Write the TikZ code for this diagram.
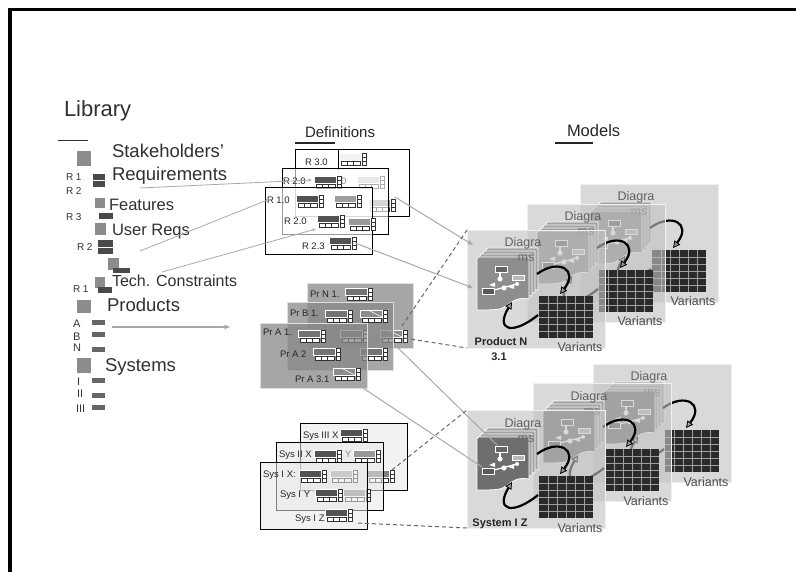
\documentclass[tikz,border=0pt]{standalone}
\usepackage{fontspec}
\setmainfont{Liberation Sans}
\usetikzlibrary{arrows.meta}

\definecolor{libtext}{HTML}{303030}
\definecolor{sqgray}{HTML}{8C8C8C}
\definecolor{bardark}{HTML}{4A4A4A}
\definecolor{barmid}{HTML}{666666}
\definecolor{panelfill}{HTML}{C2C2C2}
\definecolor{gridfill}{HTML}{2A2A2A}
\definecolor{gridline}{HTML}{A0A0A0}
\definecolor{prodbox}{HTML}{888888}
\definecolor{linkgray}{HTML}{A8A8A8}
\definecolor{cardback}{HTML}{A2A2A2}
\definecolor{cardprod}{HTML}{8E8E8E}
\definecolor{cardsys}{HTML}{6E6E6E}

\newcommand\fs[1]{\fontsize{#1}{#1}\selectfont}

% small form widget: filled field, row of cells below, stacked cells on the right
\newcommand\wdg[3]{%
  \begin{scope}[shift={(#1,#2)}]
    \fill[#3] (0,0) rectangle (22,7);
    \draw[white, line width=0.7] (0,0) rectangle (22,7);
    \draw[black!80, fill=white, line width=0.5] (2,8.5) rectangle (21,12);
    \draw[black!80, line width=0.5] (8.3,8.5) -- (8.3,12) (14.6,8.5) -- (14.6,12);
    \draw[black!80, fill=white, line width=0.5] (23.5,0) rectangle (27,12);
    \draw[black!80, line width=0.5] (23.5,4) -- (27,4) (23.5,8) -- (27,8);
  \end{scope}}
% same widget with a struck-through field
\newcommand\wdgd[3]{%
  \wdg{#1}{#2}{#3}%
  \draw[white, line width=0.6] (#1+8,#2) -- (#1+22,#2+7);}

% one diagram sheet with a wavy lower edge
\newcommand\mcard[3]{%
  \begin{scope}[shift={(#1,#2)}]
    \draw[fill=#3, draw=white, line width=0.8]
      (0,1.5) -- (1.5,0) -- (52,0) -- (52,42)
      .. controls (41,40) and (35,44) .. (29,49)
      .. controls (24,53) and (18,53) .. (0,53) -- cycle;
  \end{scope}}
% flow sketch on the front sheet
\newcommand\mcardicons[2]{%
  \begin{scope}[shift={(#1,#2)}]
    \draw[white, fill=black!60, line width=0.6] (18,9) rectangle (30,15);
    \draw[white, line width=1.1] (23,15) -- (23,20);
    \fill[white] (23,22) circle[radius=2.6];
    \draw[white, fill=black!28, line width=0.6] (35,18) rectangle (47,23);
    \draw[white, fill=black!65, line width=0.6] (5,31) rectangle (17,37);
    \draw[white, line width=1.2] (17,33) -- (40,27);
    \fill[white] (12,28) -- (18,25.5) -- (18,30) -- cycle;
    \fill[white] (27,31) circle[radius=2.6];
    \fill[white] (31,30) -- (37,27) -- (37,32) -- cycle;
    \fill[white] (40,27) circle[radius=2];
  \end{scope}}
% variants matrix
\newcommand\mgrid[2]{%
  \begin{scope}[shift={(#1,#2)}]
    \fill[gridfill] (0,0) rectangle (54,42);
    \foreach \i in {9,18,27,36,45} \draw[gridline, line width=0.5] (\i,0) -- (\i,42);
    \foreach \j in {7,14,21,28,35} \draw[gridline, line width=0.5] (0,\j) -- (54,\j);
  \end{scope}}
% one model panel: diagrams, variants and the cycle between them
\newcommand\mpanel[4]{%
  \begin{scope}[shift={(#2,#3)}]
    \fill[panelfill, fill opacity=0.62] (0,0) rectangle (138,118);
    \draw[white!88!gray, line width=0.6] (0,0) rectangle (138,118);
    \coordinate (#1-nw) at (0,0);
    \coordinate (#1-sw) at (0,118);
    \mcard{19}{18}{cardback}
    \mcard{16}{21}{cardback}
    \mcard{13}{24}{cardback}
    \mcard{10}{27}{#4}
    \mcardicons{10}{27}
    \mgrid{72}{66}
    \node[anchor=base, font=\fs{12.5}, text=black!62] (#1-d) at (56,17) {Diagra};
    \node[anchor=base, font=\fs{12.5}, text=black!58] (#1-m) at (59,32) {ms};
    \node[anchor=base, font=\fs{12.5}, text=black!70] (#1-v) at (113,122) {Variants};
    \coordinate (#1-c1) at (70,44);
    \coordinate (#1-g1) at (93,64);
    \coordinate (#1-g2) at (71,85);
    \coordinate (#1-c2) at (45,72);
    \draw[cyc] (#1-c1) .. controls (92,28) and (112,40) .. (#1-g1);
    \draw[cyc] (#1-g2) .. controls (45,106) and (28,100) .. (#1-c2);
  \end{scope}}

\tikzset{
  every node/.style={inner sep=0pt, outer sep=0pt},
  lbl/.style={anchor=base west, text=libtext},
  rlab/.style={anchor=base west, font=\fs{10}, text=black!80},
  sq/.style={fill=sqgray},
  bard/.style={fill=bardark},
  barm/.style={fill=barmid},
  defr/.style={draw=black, line width=1, fill=white, fill opacity=0.6, anchor=north west},
  defp/.style={draw=white!75!gray, line width=0.8, fill=prodbox, fill opacity=0.75, anchor=north west},
  defs/.style={draw=black, line width=1, fill=black!9, fill opacity=0.55, anchor=north west},
  dlab/.style={anchor=base west, font=\fs{9.5}, text=black!85},
  ghost/.style={anchor=base west, font=\fs{9.5}, text=black!45},
  cyc/.style={draw=black, line width=2.2,
    -{Triangle[length=7pt,width=7pt,fill=black!40,line width=0.8pt]}},
  lnk/.style={draw=linkgray, line width=0.8, -{Stealth[length=4pt,width=3pt]}},
  mlnk/.style={draw=linkgray, line width=1, -{Stealth[length=6pt,width=5pt]}},
  slnk/.style={draw=linkgray, line width=1},
  dsh/.style={draw=black!60, line width=1, dash pattern=on 4pt off 3pt},
}

\begin{document}
\begin{tikzpicture}[x=1pt, y=-1pt]
\useasboundingbox (0,0) rectangle (796,572);

% frame
\fill[black] (8,8) rectangle (796,11.5);
\fill[black] (8,8) rectangle (12,572);

% ---------------- Library ----------------
\node[lbl, font=\fs{22}] (lib) at (64,117) {Library};
\draw[libtext, line width=1] (58,141) -- (88,141);

\fill[sq] (77,151) rectangle (91,166);
\node[lbl, font=\fs{18.5}] (stk) at (112,158) {Stakeholders'};
\node[rlab] (r1a) at (66,181) {R 1};
\node[rlab] (r2a) at (66,195) {R 2};
\fill[bard] (93,174) rectangle (105,180);
\fill[bard] (93,181) rectangle (105,187);
\node[lbl, font=\fs{18.5}] (req) at (112,181) {Requirements};

\fill[sq] (95,198) rectangle (105,208);
\node[lbl, font=\fs{16.5}] (feat) at (109,211) {Features};
\node[rlab] (r3a) at (66,221) {R 3};
\fill[bard] (99,213) rectangle (113,219);

\fill[sq] (95,223) rectangle (106,235);
\node[lbl, font=\fs{16.5}] (ureq) at (112,236) {User Reqs};
\node[rlab] (r2b) at (77,251) {R 2};
\fill[bard] (98,240) rectangle (113,247);
\fill[bard] (98,248) rectangle (113,254);

\fill[sq] (108,258) rectangle (119,270);
\fill[bard] (113,268) rectangle (130,273);

\fill[sq] (95,277) rectangle (105,288);
\node[lbl, font=\fs{16}] (tech) at (112,287) {Tech. Constraints};
\node[rlab] (r1b) at (73,293) {R 1};
\fill[bard] (98,287) rectangle (112,293);

\fill[sq] (77,300) rectangle (91,313);
\node[lbl, font=\fs{18.5}] (prod) at (107,312) {Products};
\node[rlab, font=\fs{11}] (pa) at (73,328) {A};
\node[rlab, font=\fs{11}] (pb) at (73,341) {B};
\node[rlab, font=\fs{11}] (pn) at (73,352) {N};
\fill[barm] (92,320) rectangle (105,325);
\fill[barm] (92,332) rectangle (105,337);
\fill[barm] (92,347) rectangle (105,352);

\fill[sq] (77,358) rectangle (91,373);
\node[lbl, font=\fs{18.5}] (sys) at (105,372) {Systems};
\node[rlab, font=\fs{11}] (s1) at (77,385) {I};
\node[rlab, font=\fs{11}] (s2) at (77,398) {II};
\node[rlab, font=\fs{11}] (s3) at (76,412) {III};
\fill[barm] (92,378) rectangle (105,383);
\fill[barm] (92,393) rectangle (105,398);
\fill[barm] (92,405) rectangle (105,410);

% ---------------- Definitions ----------------
\node[anchor=base west, font=\fs{15}, text=black!85] (defs) at (305,138) {Definitions};
\draw[black!85, line width=1.2] (295,143) -- (335,143);

% requirement sets
\node[defr, minimum width=114, minimum height=67] (r30) at (295,150) {};
\draw[black, line width=0.8] (338,150) -- (338,170);
\node[dlab] (r30l) at (305,166) {R 3.0};
\wdg{339}{153}{black!5}
\wdg{357}{176}{black!22}
\wdg{368}{199}{black!40}

\node[defr, minimum width=106, minimum height=66] (r20) at (282,169) {};
\node[dlab] (r20l) at (283,185) {R 2.0};
\node[ghost] (r20x) at (341,185) {0};
\wdg{314}{176}{black!68}

\node[defr, minimum width=107, minimum height=67] (r10) at (265,188) {};
\node[dlab] (r10l) at (267,204) {R 1.0};
\wdg{296}{195}{black!68}
\wdg{334}{195}{black!38}
\node[dlab] (r20m) at (284,225) {R 2.0};
\wdg{317}{215}{black!68}
\wdg{348}{218}{black!40}
\node[dlab] (r23l) at (302,250) {R 2.3};
\wdg{329}{237}{black!68}

% product definitions
\node[defp, minimum width=106, minimum height=65] (pnb) at (307,283) {};
\node[dlab] (pnl) at (310,298) {Pr N 1.};
\node[ghost] (pnx) at (366,344) {3.1};
\wdg{345}{288}{black!55}
\wdgd{380}{330}{black!45}

\node[defp, minimum width=106, minimum height=68] (pbb) at (287,302) {};
\node[dlab] (pbl) at (290,317) {Pr B 1.};
\node[ghost] (pbx) at (325,337) {2};
\node[ghost] (pby) at (343,363) {3.1};
\wdg{325}{310}{black!55}
\wdgd{360}{310}{black!45}
\wdg{340}{330}{black!50}
\wdg{360}{348}{black!55}

\node[defp, minimum width=107, minimum height=65] (pab) at (260,323) {};
\node[dlab] (pal) at (263,336) {Pr A 1.};
\node[dlab] (pa2) at (280,357) {Pr A 2};
\node[dlab] (pa3) at (295,382) {Pr A 3.1};
\wdg{298}{330}{black!55}
\wdg{313}{348}{black!55}
\wdgd{333}{368}{black!45}

% system definitions
\node[defs, minimum width=107, minimum height=67] (s3b) at (300,423) {};
\node[dlab] (s3l) at (303,438) {Sys III X};
\wdg{340}{429}{black!68}
\wdg{367}{470}{black!50}

\node[defs, minimum width=107, minimum height=68] (s2b) at (276,442) {};
\node[dlab] (s2l) at (279,457) {Sys II X};
\node[ghost] (s2y) at (345,457) {Y};
\wdg{314}{450}{black!68}
\wdg{353}{450}{black!40}
\wdg{330}{470}{black!35}
\wdg{343}{489}{black!45}

\node[defs, minimum width=107, minimum height=67] (s1b) at (260,462) {};
\node[dlab] (s1l) at (263,477) {Sys I X:};
\node[dlab] (s1y) at (280,497) {Sys I Y};
\node[dlab] (s1z) at (295,521) {Sys I Z};
\wdg{299}{470}{black!68}
\wdg{315}{489}{black!68}
\wdg{325}{509}{black!68}

% ---------------- Models ----------------
\node[anchor=base west, font=\fs{16.5}, text=black!85] (mods) at (567,137) {Models};
\draw[black!85, line width=1.2] (555,143) -- (593,143);

\mpanel{p3}{580}{184}{cardprod}
\mpanel{p2}{527}{204}{cardprod}
\mpanel{p1}{467}{230}{cardprod}
\node[anchor=base, font=\bfseries\fs{11}, text=black!85] (pN) at (501,346) {Product N};
\node[anchor=base, font=\bfseries\fs{11}, text=black!85] (pN2) at (499,360) {3.1};

\mpanel{q3}{593}{364}{cardsys}
\mpanel{q2}{533}{383}{cardsys}
\mpanel{q1}{467}{410}{cardsys}
\node[anchor=base, font=\bfseries\fs{11}, text=black!85] (sIZ) at (500,526) {System I Z};

% ---------------- connectors ----------------
\coordinate (k1s) at (140,188); \coordinate (k1e) at (312,180);
\coordinate (k2s) at (140,251); \coordinate (k2e) at (270,199);
\coordinate (k3s) at (162,272); \coordinate (k3e) at (316,229);
\draw[lnk] (k1s) -- (k1e);
\draw[lnk] (k2s) -- (k2e);
\draw[lnk] (k3s) -- (k3e);

\coordinate (pas) at (112,327); \coordinate (pae) at (230,327);
\draw[draw=linkgray, line width=1.2, -{Stealth[length=6pt,width=5pt]}] (pas) -- (pae);

\coordinate (rq1) at (395,197); \coordinate (pc1) at (473,245);
\coordinate (rq2) at (355,243); \coordinate (pc2) at (473,288);
\draw[mlnk] (rq1) -- (pc1);
\draw[mlnk] (rq2) -- (pc2);

\coordinate (pd1) at (402,326);
\coordinate (pd2) at (404,338);
\draw[dsh] (pd1) -- (p1-nw);
\draw[dsh] (pd2) -- (p1-sw);

\coordinate (ps1) at (395,345); \coordinate (sc1) at (497,445);
\coordinate (ps2) at (363,388); \coordinate (sc2) at (482,467);
\draw[slnk] (ps1) -- (sc1);
\draw[slnk] (ps2) -- (sc2);

\coordinate (sd1) at (392,470);
\coordinate (sd2) at (358,523);
\draw[dsh] (sd1) -- (q1-nw);
\draw[dsh] (sd2) -- (q1-sw);
\end{tikzpicture}
\end{document}
